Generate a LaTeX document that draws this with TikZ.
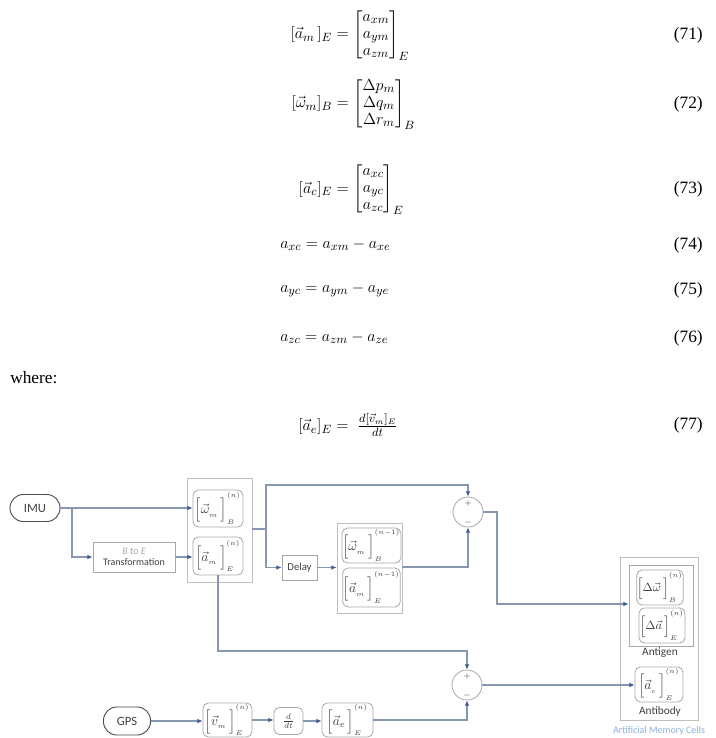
\documentclass[tikz,border=0pt]{standalone}
\usepackage{amsmath}
\usepackage{fontspec}
\setmainfont{Liberation Serif}
\newfontfamily\carl{Carlito}
\usetikzlibrary{arrows.meta,calc}
\definecolor{ln}{HTML}{8797B2}
\definecolor{tipc}{HTML}{3F5C8F}
\definecolor{bx}{HTML}{A8A8A8}
\definecolor{txt}{HTML}{404040}
\definecolor{amc}{HTML}{8DB1DC}
\newcommand\mlab[3]{$\left[\vphantom{\Big|}#1\,\right]_{#2}^{#3}$}
\begin{document}
\begin{tikzpicture}[x=0.75pt,y=-0.75pt,
  eqf/.style={inner sep=0pt,font=\fontsize{13}{15.5}\selectfont},
  conn/.style={draw=ln,line width=0.8pt,-{Latex[length=4pt,width=3.6pt,color=tipc,fill=tipc]}},
  plain/.style={draw=ln,line width=0.8pt},
  grp/.style={draw=bx!75,line width=0.6pt,inner sep=0pt},
  sbox/.style={draw=bx,line width=0.6pt,inner sep=0pt,text=txt,font=\carl\fontsize{7.5}{9}\selectfont,align=center},
  ibox/.style={draw=bx,rounded corners=4pt,line width=0.6pt,inner sep=0pt,text=txt,font=\fontsize{10}{12}\selectfont},
  pill/.style={draw=black!70,line width=0.7pt,rounded corners=10pt,inner sep=0pt,text=txt,font=\carl\fontsize{9.5}{11}\selectfont},
  sumc/.style={circle,draw=bx,line width=0.6pt,inner sep=0pt,minimum size=30*0.75pt},
  sgn/.style={inner sep=0pt,text=txt,font=\fontsize{6}{7}\selectfont},
  lab/.style={inner sep=0pt,text=txt,font=\carl\fontsize{8.5}{10}\selectfont}]
\fill[white] (0,0) rectangle (716,738);
\useasboundingbox (0,0) rectangle (716,738);

% ---------- equations ----------
\node[eqf,anchor=east] (e71l) at (349,35) {$[\vec{a}_m\,]_E =$};
\node[eqf,anchor=west] (e71m) at (353,35) {$\renewcommand\arraystretch{0.82}\begin{bmatrix} a_{xm}\\ a_{ym}\\ a_{zm}\end{bmatrix}_E$};
\node[eqf,anchor=east] (e71n) at (703,35) {(71)};

\node[eqf,anchor=east] (e72l) at (349,104) {$[\vec{\omega}_m]_B =$};
\node[eqf,anchor=west] (e72m) at (353,104) {$\renewcommand\arraystretch{0.82}\begin{bmatrix} \Delta p_{m}\\ \Delta q_{m}\\ \Delta r_{m}\end{bmatrix}_B$};
\node[eqf,anchor=east] (e72n) at (703,104) {(72)};

\node[eqf,anchor=east] (e73l) at (349,189) {$[\vec{a}_c]_E =$};
\node[eqf,anchor=west] (e73m) at (353,189) {$\renewcommand\arraystretch{0.82}\begin{bmatrix} a_{xc}\\ a_{yc}\\ a_{zc}\end{bmatrix}_E$};
\node[eqf,anchor=east] (e73n) at (703,189) {(73)};

\node[eqf,anchor=west] (e74) at (280,245) {$a_{xc} = a_{xm} - a_{xe}$};
\node[eqf,anchor=east] (e74n) at (703,245) {(74)};
\node[eqf,anchor=west] (e75) at (280,290) {$a_{yc} = a_{ym} - a_{ye}$};
\node[eqf,anchor=east] (e75n) at (703,290) {(75)};
\node[eqf,anchor=west] (e76) at (280,338) {$a_{zc} = a_{zm} - a_{ze}$};
\node[eqf,anchor=east] (e76n) at (703,338) {(76)};
\node[eqf,anchor=west] (wh) at (10,378) {where:};
\node[eqf,anchor=west] (e77) at (298,425) {$[\vec{a}_e]_E =\; \tfrac{d[\vec{v}_m]_E}{dt}$};
\node[eqf,anchor=east] (e77n) at (703,425) {(77)};

% ---------- diagram nodes ----------
\node[pill,minimum width=50*0.75pt,minimum height=27*0.75pt] (imu) at (35,508) {IMU};
\node[sbox,minimum width=82*0.75pt,minimum height=30*0.75pt] (tr) at (134,557) {{\color{bx}\itshape B} {\color{bx}to} {\color{bx}\itshape E}\\[-1pt]Transformation};
\node[grp,minimum width=65*0.75pt,minimum height=104*0.75pt] (g1) at (219.5,530) {};
\node[ibox,minimum width=50*0.75pt,minimum height=37*0.75pt] (om) at (218,508.5) {\mlab{\vec{\omega}_{{}_m}}{{}_B}{{}^{(n)}}};
\node[ibox,minimum width=50*0.75pt,minimum height=38*0.75pt] (am) at (218,556) {\mlab{\vec{a}_{{}_m}}{{}_E}{{}^{(n)}}};
\node[sbox,font=\carl\fontsize{8}{9}\selectfont,minimum width=35*0.75pt,minimum height=25*0.75pt] (delay) at (299.5,567.5) {Delay};
\node[grp,minimum width=65*0.75pt,minimum height=90*0.75pt] (g2) at (369.5,568) {};
\node[ibox,minimum width=51*0.75pt,minimum height=35*0.75pt] (om1) at (371.5,545.5) {\mlab{\vec{\omega}_{{}_m}}{{}_B}{{}^{(n-1)}}};
\node[ibox,minimum width=51*0.75pt,minimum height=39*0.75pt] (am1) at (371.5,587.5) {\mlab{\vec{a}_{{}_m}}{{}_E}{{}^{(n-1)}}};

\node[sumc] (s1) at (468,512) {};
\node[sgn] (s1p) at (468,503) {$+$};
\node[sgn] (s1m) at (468,522) {$-$};
\node[sumc] (s2) at (467,685) {};
\node[sgn] (s2p) at (467,676) {$+$};
\node[sgn] (s2m) at (467,695) {$-$};

\node[grp,minimum width=78*0.75pt,minimum height=163*0.75pt] (mem) at (659,638.5) {};
\node[grp,draw=bx,minimum width=64*0.75pt,minimum height=81*0.75pt] (ag) at (661,605.5) {};
\node[ibox,font=\fontsize{9}{11}\selectfont,minimum width=46*0.75pt,minimum height=35*0.75pt] (dw) at (660,587.5) {\mlab{\Delta\vec{\omega}}{{}_B}{{}^{(n)}}};
\node[ibox,font=\fontsize{9}{11}\selectfont,minimum width=46*0.75pt,minimum height=35*0.75pt] (da) at (662,625.5) {\mlab{\Delta\vec{a}}{{}_E}{{}^{(n)}}};
\node[lab] (agl) at (660,653) {Antigen};
\node[ibox,minimum width=48*0.75pt,minimum height=35*0.75pt] (ac) at (659,684.5) {\mlab{\vec{a}_{{}_c}}{{}_E}{{}^{(n)}}};
\node[lab] (abl) at (660,711) {Antibody};
\node[lab,text=amc,font=\carl\fontsize{7.5}{9}\selectfont] (amcl) at (659,731) {Artificial Memory Cells};

\node[pill,minimum width=47*0.75pt,minimum height=28*0.75pt] (gps) at (127,721) {GPS};
\node[ibox,minimum width=49*0.75pt,minimum height=34*0.75pt] (vm) at (227.5,720) {\mlab{\vec{v}_{{}_m}}{{}_E}{{}^{(n)}}};
\node[ibox,font=\fontsize{8}{9}\selectfont,minimum width=29*0.75pt,minimum height=27*0.75pt] (ddt) at (288.5,721) {$\frac{d}{dt}$};
\node[ibox,minimum width=51*0.75pt,minimum height=34*0.75pt] (ae) at (347.5,720) {\mlab{\vec{a}_{e}}{{}_E}{{}^{(n)}}};

% ---------- connectors ----------
\coordinate (b1) at (72,508);
\coordinate (j1) at (266,529);
\coordinate (t1) at (266,485);
\coordinate (g2o) at (402,567);
\coordinate (v1) at (497,604);
\coordinate (c2) at (218,651);

\draw[conn] (imu.east) -- (om.west |- imu.east);
\draw[conn] (b1) |- (tr.west);
\draw[conn] (tr.east) -- (am.west |- tr.east);
\draw[plain] (g1.east |- j1) -- (j1);
\draw[conn] (j1) |- (delay.west);
\draw[conn] (j1) -- (t1) -| (s1.north);
\draw[conn] (delay.east) -- (g2.west |- delay.east);
\draw[conn] (g2o) -| (s1.south);
\draw[conn] (s1.east) -| (v1) -- (ag.west |- v1);
\draw[conn] (am.south) -- (c2) -| (s2.north);
\draw[conn] (s2.east) -- (ac.west |- s2.east);
\draw[conn] (gps.east) -- (vm.west |- gps.east);
\draw[conn] (vm.east) -- (vm.east -| ddt.west);
\draw[conn] (ddt.east) -- (ddt.east -| ae.west);
\draw[conn] (ae.east) -| (s2.south);
\end{tikzpicture}
\end{document}
